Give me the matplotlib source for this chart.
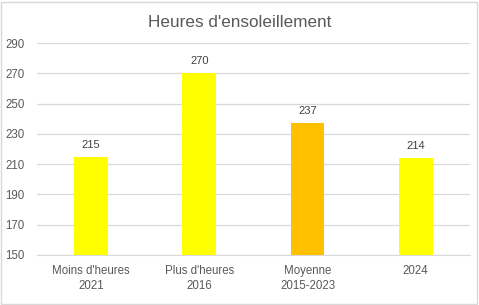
import matplotlib.pyplot as plt
from matplotlib.patches import Rectangle

categories = ["Moins d'heures\n2021", "Plus d'heures\n2016", "Moyenne\n2015-2023", "2024"]
values = [215, 270, 237, 214]
colors = ["#FFFF00", "#FFFF00", "#FFC000", "#FFFF00"]
yticks = [150, 170, 190, 210, 230, 250, 270, 290]

plt.rcParams['font.family'] = ['Liberation Sans', 'DejaVu Sans']
text_col = "#595959"

fig = plt.figure(figsize=(4.79, 3.05), dpi=100)
ax = fig.add_axes([0.077, 0.164, 0.904, 0.695])

x = range(len(categories))
bars = ax.bar(x, values, width=0.31, color=colors, zorder=3)
for xi, v in zip(x, values):
    ax.annotate(str(v), (xi, v), xytext=(0, 5), textcoords="offset points",
                ha="center", va="bottom", fontsize=8, color="#404040")

ax.set_ylim(150, 290)
ax.set_xlim(-0.5, len(categories) - 0.5)
ax.set_yticks(yticks)
ax.set_xticks(list(x))
ax.set_xticklabels(categories, linespacing=1.35)
ax.tick_params(axis="both", length=0, labelsize=8.3, colors=text_col)
ax.tick_params(axis="y", pad=9)
ax.tick_params(axis="x", pad=7)
ax.grid(axis="y", color="#D9D9D9", linewidth=0.9, zorder=0)
for s in ["top", "right", "left"]:
    ax.spines[s].set_visible(False)
ax.spines["bottom"].set_color("#D9D9D9")

fig.text(0.5, 0.927, "Heures d'ensoleillement", ha="center", va="center",
         fontsize=12.3, color=text_col)
fig.patches.append(Rectangle((0.002, 0.003), 0.994, 0.992, transform=fig.transFigure,
                             fill=False, edgecolor="#D9D9D9", linewidth=1))

fig.savefig("out.png", dpi=100)
